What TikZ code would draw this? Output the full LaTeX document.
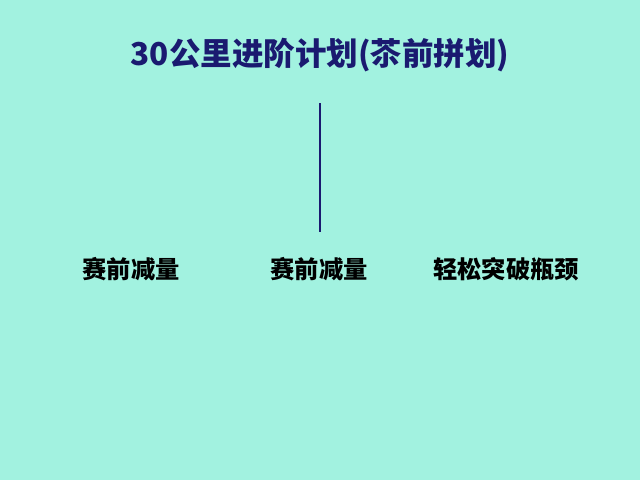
\documentclass[tikz,border=0pt]{standalone}
\usepackage{fontspec}
\newfontfamily\cjk{Noto Sans CJK SC}[BoldFont={Noto Sans CJK SC Black}]
\definecolor{bgc}{HTML}{A2F2E0}
\definecolor{navy}{HTML}{1A1A70}
\tikzset{
  titletext/.style={font=\cjk\bfseries\fontsize{31.5pt}{34pt}\selectfont, text=navy, inner sep=0pt},
  leaftext/.style={font=\cjk\bfseries\fontsize{24.3pt}{27pt}\selectfont, text=black, inner sep=0pt},
  link/.style={draw=navy, line width=2pt}
}
\begin{document}
\begin{tikzpicture}[x=1pt,y=-1pt]
\fill[bgc] (0,0) rectangle (640,480);
\useasboundingbox (0,0) rectangle (640,480);
\node[titletext] (title) at (320,55) {30公里进阶计划(苶前拼划)};
\coordinate (top) at (320,103);
\coordinate (bot) at (320,232);
\draw[link] (top) -- (bot);
\node[leaftext] (a) at (131,269) {赛前减量};
\node[leaftext] (b) at (319,269) {赛前减量};
\node[leaftext] (c) at (506,269) {轻松突破瓶颈};
\end{tikzpicture}
\end{document}
